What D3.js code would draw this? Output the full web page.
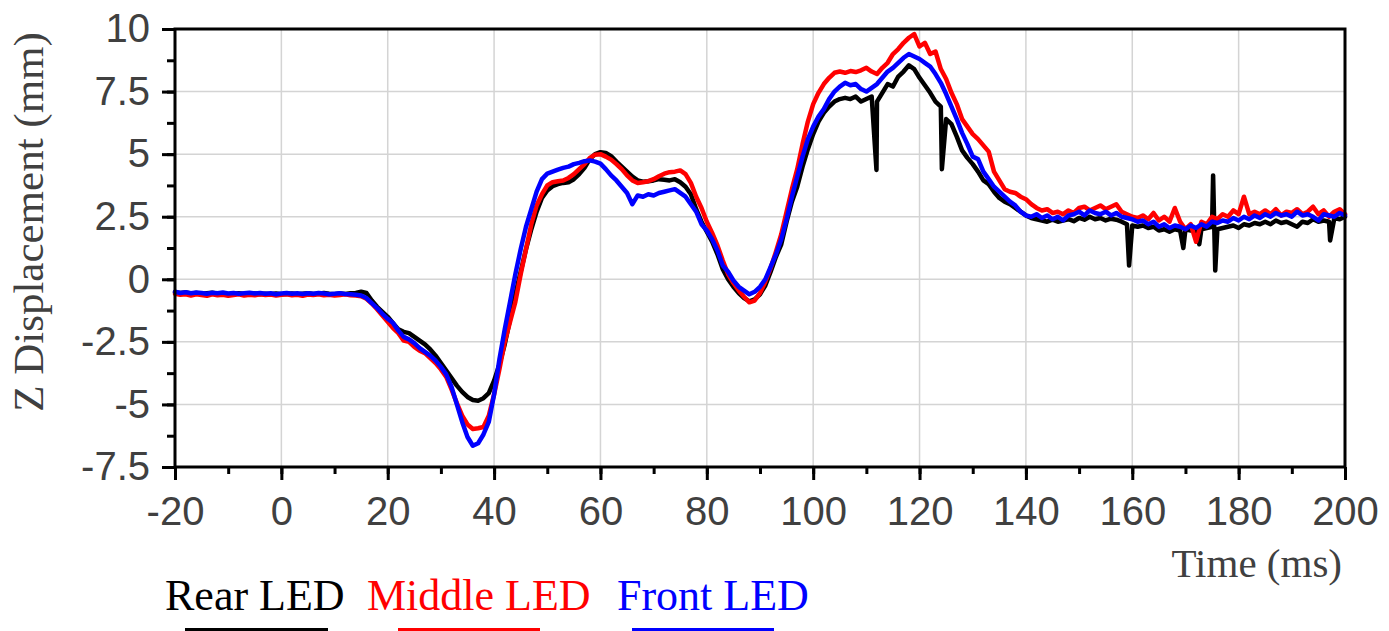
<!DOCTYPE html>
<html>
<head>
<meta charset="utf-8">
<script src="https://cdn.jsdelivr.net/npm/d3@7"></script>
<style>
  html, body { margin: 0; padding: 0; background: #fff; }
  svg { display: block; }
</style>
</head>
<body>
<svg id="chart" width="1389" height="631"></svg>
<script>
// ---- Data ----
const tStart = -20, tEnd = 200;            // ms, 1 ms sampling
const xTicks = [-20, 0, 20, 40, 60, 80, 100, 120, 140, 160, 180, 200];
const xTickLabels = ["-20", "0", "20", "40", "60", "80", "100", "120", "140", "160", "180", "200"];
const yTicks = [-7.5, -5, -2.5, 0, 2.5, 5, 7.5, 10];
const yTickLabels = ["-7.5", "-5", "-2.5", "0", "2.5", "5", "7.5", "10"];
const seriesNames = ["Rear LED", "Middle LED", "Front LED"];

const rearLED = [
  -0.52,-0.55,-0.53,-0.57,-0.55,-0.58,-0.56,-0.54,-0.58,-0.57,
  -0.60,-0.58,-0.56,-0.59,-0.60,-0.57,-0.60,-0.58,-0.60,-0.57,
  -0.60,-0.59,-0.57,-0.60,-0.58,-0.56,-0.59,-0.58,-0.55,-0.58,
  -0.60,-0.57,-0.59,-0.56,-0.55,-0.50,-0.55,-0.85,-1.10,-1.30,
  -1.50,-1.75,-2.00,-2.10,-2.15,-2.30,-2.45,-2.60,-2.80,-3.05,
  -3.35,-3.65,-3.95,-4.25,-4.50,-4.70,-4.82,-4.85,-4.75,-4.55,
  -4.05,-3.40,-2.60,-1.60,-0.60,0.30,1.20,2.00,2.70,3.25,
  3.55,3.72,3.80,3.85,3.88,4.00,4.20,4.45,4.80,5.00,
  5.08,5.05,4.92,4.70,4.50,4.30,4.10,3.95,3.90,3.92,
  3.95,4.00,3.98,3.95,4.00,3.88,3.70,3.40,2.80,2.30,
  1.90,1.50,1.00,0.40,0.00,-0.30,-0.55,-0.75,-0.88,-0.80,
  -0.60,-0.25,0.30,0.90,1.40,2.30,3.10,3.70,4.50,5.20,
  5.80,6.30,6.65,6.90,7.10,7.20,7.25,7.20,7.30,7.10,
  7.20,7.30,7.10,7.45,7.80,7.70,8.10,8.30,8.55,8.40,
  8.05,7.75,7.45,7.10,6.90,6.40,6.20,5.70,5.15,4.85,
  4.60,4.30,3.95,3.80,3.50,3.25,3.10,3.00,2.85,2.70,
  2.55,2.45,2.40,2.35,2.30,2.38,2.30,2.35,2.40,2.32,
  2.45,2.38,2.50,2.40,2.45,2.35,2.42,2.38,2.30,2.20,
  2.15,2.10,2.15,2.05,2.10,1.95,2.00,1.90,2.00,1.95,
  2.00,1.95,2.05,2.00,2.05,2.10,2.00,2.05,2.10,2.15,
  2.05,2.20,2.15,2.25,2.20,2.30,2.20,2.35,2.25,2.30,
  2.20,2.10,2.30,2.25,2.40,2.30,2.35,2.30,2.45,2.40,
  2.50
];
// narrow sensor dropouts in the rear trace
const rearSpikeT = [111.9, 124.2, 159.4, 169.6, 172.6, 175.2, 175.6, 197.2];
const rearSpikeV = [4.37, 4.40, 0.55, 1.25, 1.40, 4.15, 0.35, 1.55];

const middleLED = [
  -0.58,-0.62,-0.60,-0.65,-0.60,-0.63,-0.66,-0.60,-0.64,-0.62,
  -0.66,-0.63,-0.60,-0.65,-0.62,-0.64,-0.60,-0.63,-0.61,-0.65,
  -0.62,-0.60,-0.64,-0.62,-0.66,-0.61,-0.63,-0.60,-0.64,-0.62,
  -0.65,-0.63,-0.60,-0.64,-0.65,-0.68,-0.78,-0.97,-1.20,-1.45,
  -1.70,-1.95,-2.15,-2.45,-2.50,-2.70,-2.85,-2.95,-3.15,-3.35,
  -3.60,-3.90,-4.40,-4.95,-5.45,-5.80,-5.98,-5.95,-5.90,-5.45,
  -4.60,-3.60,-2.50,-1.70,-0.90,0.20,1.20,2.20,2.95,3.40,
  3.75,3.88,3.92,3.95,4.05,4.20,4.40,4.60,4.85,4.98,
  5.00,4.90,4.78,4.60,4.40,4.15,3.95,3.85,3.88,3.92,
  4.00,4.12,4.22,4.28,4.30,4.35,4.20,3.85,3.30,2.85,
  2.30,1.85,1.35,0.75,0.20,-0.15,-0.45,-0.70,-0.92,-0.85,
  -0.55,-0.10,0.45,1.10,1.80,2.70,3.60,4.40,5.40,6.30,
  7.00,7.45,7.80,8.05,8.25,8.30,8.25,8.32,8.28,8.35,
  8.45,8.30,8.20,8.45,8.65,9.00,9.20,9.45,9.65,9.80,
  9.30,9.45,9.00,9.10,8.40,8.00,7.45,7.00,6.40,6.10,
  5.80,5.60,5.35,5.10,4.30,3.95,3.60,3.50,3.45,3.30,
  3.20,3.00,2.85,2.75,2.80,2.65,2.70,2.60,2.75,2.65,
  2.85,2.90,2.75,2.85,2.95,2.80,2.90,3.00,2.70,2.60,
  2.50,2.45,2.55,2.40,2.65,2.35,2.50,2.30,2.85,2.30,
  2.00,2.20,1.50,2.30,2.20,2.50,2.40,2.60,2.50,2.75,
  2.60,3.30,2.60,2.70,2.60,2.75,2.60,2.80,2.55,2.70,
  2.65,2.80,2.60,2.70,2.90,2.60,2.75,2.50,2.70,2.80,
  2.60
];

const frontLED = [
  -0.50,-0.55,-0.52,-0.56,-0.53,-0.55,-0.58,-0.54,-0.56,-0.53,
  -0.57,-0.55,-0.58,-0.56,-0.54,-0.57,-0.55,-0.58,-0.56,-0.60,
  -0.57,-0.55,-0.58,-0.56,-0.59,-0.56,-0.58,-0.55,-0.57,-0.60,
  -0.58,-0.56,-0.59,-0.60,-0.62,-0.65,-0.75,-0.95,-1.15,-1.38,
  -1.58,-1.75,-2.05,-2.30,-2.40,-2.55,-2.75,-2.90,-3.05,-3.25,
  -3.50,-3.80,-4.30,-5.00,-5.70,-6.30,-6.65,-6.55,-6.20,-5.70,
  -4.60,-3.20,-2.00,-0.90,0.20,1.20,2.10,2.80,3.50,4.00,
  4.22,4.30,4.38,4.45,4.50,4.60,4.65,4.72,4.75,4.70,
  4.62,4.40,4.15,3.95,3.70,3.45,3.00,3.35,3.30,3.40,
  3.35,3.45,3.50,3.55,3.60,3.45,3.30,3.00,2.70,2.20,
  1.95,1.60,1.15,0.55,0.30,-0.05,-0.30,-0.45,-0.60,-0.50,
  -0.30,0.00,0.50,1.00,1.60,2.40,3.30,4.10,4.90,5.60,
  6.10,6.50,6.80,7.20,7.50,7.70,7.85,7.75,7.80,7.60,
  7.50,7.65,7.80,8.05,8.30,8.45,8.65,8.85,9.00,8.90,
  8.80,8.65,8.50,8.20,7.85,7.40,6.90,6.40,5.85,5.40,
  4.90,4.80,4.30,4.00,3.70,3.50,3.30,3.10,2.95,2.70,
  2.55,2.50,2.60,2.45,2.55,2.40,2.50,2.35,2.55,2.60,
  2.70,2.55,2.75,2.65,2.60,2.70,2.55,2.65,2.50,2.45,
  2.40,2.30,2.35,2.20,2.30,2.10,2.20,2.05,2.15,2.10,
  2.00,2.15,2.05,2.20,2.10,2.30,2.25,2.35,2.30,2.45,
  2.35,2.50,2.40,2.55,2.45,2.60,2.50,2.65,2.55,2.60,
  2.50,2.70,2.55,2.60,2.50,2.35,2.60,2.55,2.50,2.65,
  2.55
];

// ---- Layout ----
const svg = d3.select("#chart");
const plot = { left: 175, right: 1345, top: 29, bottom: 467 };
const x = d3.scaleLinear().domain([-20, 200]).range([plot.left, plot.right]);
const y = d3.scaleLinear().domain([-7.5, 10]).range([plot.bottom, plot.top]);

const times = d3.range(tStart, tEnd + 1, 1);
function toPoints(vals) { return vals.map((v, i) => ({ t: times[i], v })); }
const rearPts = toPoints(rearLED)
  .concat(rearSpikeT.map((t, i) => ({ t, v: rearSpikeV[i] })))
  .sort((a, b) => a.t - b.t);
const series = [
  { name: seriesNames[0], pts: rearPts, color: "#000000" },
  { name: seriesNames[1], pts: toPoints(middleLED), color: "#ff0000" },
  { name: seriesNames[2], pts: toPoints(frontLED), color: "#0000ff" }
];

const sansFont = "'Liberation Sans', Arial, Helvetica, sans-serif";
const serifFont = "'Liberation Serif', 'Times New Roman', Times, serif";
const labelColor = "#404040";

// grid
const grid = svg.append("g");
grid.selectAll("line.gx").data(xTicks).join("line")
  .attr("x1", d => x(d)).attr("x2", d => x(d))
  .attr("y1", plot.top).attr("y2", plot.bottom)
  .attr("stroke", "#d4d4d4").attr("stroke-width", 1.5);
grid.selectAll("line.gy").data(yTicks).join("line")
  .attr("x1", plot.left).attr("x2", plot.right)
  .attr("y1", d => y(d)).attr("y2", d => y(d))
  .attr("stroke", "#d4d4d4").attr("stroke-width", 1.5);

// lines
const line = d3.line().x(d => x(d.t)).y(d => y(d.v));
svg.append("g").selectAll("path").data(series).join("path")
  .attr("d", d => line(d.pts))
  .attr("fill", "none")
  .attr("stroke", d => d.color)
  .attr("stroke-width", 4.5)
  .attr("stroke-linejoin", "round")
  .attr("stroke-linecap", "round");

// axes
const xMinor = d3.range(-20, 201, 10);
const yMinor = d3.range(-7.5, 10.01, 1.25);

const gxMinor = svg.append("g").attr("transform", `translate(0,${plot.bottom})`)
  .call(d3.axisBottom(x).tickValues(xMinor).tickSize(7).tickFormat(""));
const gx = svg.append("g").attr("transform", `translate(0,${plot.bottom})`)
  .call(d3.axisBottom(x).tickValues(xTicks).tickSize(13).tickPadding(17)
    .tickFormat((d, i) => xTickLabels[i]));
const gyMinor = svg.append("g").attr("transform", `translate(${plot.left},0)`)
  .call(d3.axisLeft(y).tickValues(yMinor).tickSize(8).tickFormat(""));
const gy = svg.append("g").attr("transform", `translate(${plot.left},0)`)
  .call(d3.axisLeft(y).tickValues(yTicks).tickSize(13).tickPadding(12)
    .tickFormat((d, i) => yTickLabels[i]));

[gx, gxMinor, gy, gyMinor].forEach(g => {
  g.select(".domain").remove();
  g.selectAll(".tick line").attr("stroke", "#000").attr("stroke-width", 3);
  g.selectAll(".tick text").attr("fill", labelColor)
    .style("font-family", sansFont).style("font-size", "40px");
});

// frame
svg.append("rect")
  .attr("x", plot.left).attr("y", plot.top)
  .attr("width", plot.right - plot.left).attr("height", plot.bottom - plot.top)
  .attr("fill", "none").attr("stroke", "#000").attr("stroke-width", 3);

// axis titles
svg.append("text")
  .attr("x", 1342).attr("y", 577)
  .attr("text-anchor", "end")
  .attr("fill", labelColor)
  .style("font-family", serifFont).style("font-size", "41px")
  .text("Time (ms)");
svg.append("text")
  .attr("transform", "translate(43,222) rotate(-90)")
  .attr("text-anchor", "middle")
  .attr("fill", labelColor)
  .style("font-family", serifFont).style("font-size", "43px")
  .text("Z Displacement (mm)");

// legend
const legendTextX = [165, 367, 617];
const legendLine = [[185, 328], [398, 540], [632, 774]];
const lg = svg.append("g");
series.forEach((s, i) => {
  lg.append("text")
    .attr("x", legendTextX[i]).attr("y", 610)
    .attr("fill", s.color)
    .style("font-family", serifFont).style("font-size", "44px")
    .text(s.name);
  lg.append("line")
    .attr("x1", legendLine[i][0]).attr("x2", legendLine[i][1])
    .attr("y1", 629.5).attr("y2", 629.5)
    .attr("stroke", s.color).attr("stroke-width", 3);
});
</script>
</body>
</html>
